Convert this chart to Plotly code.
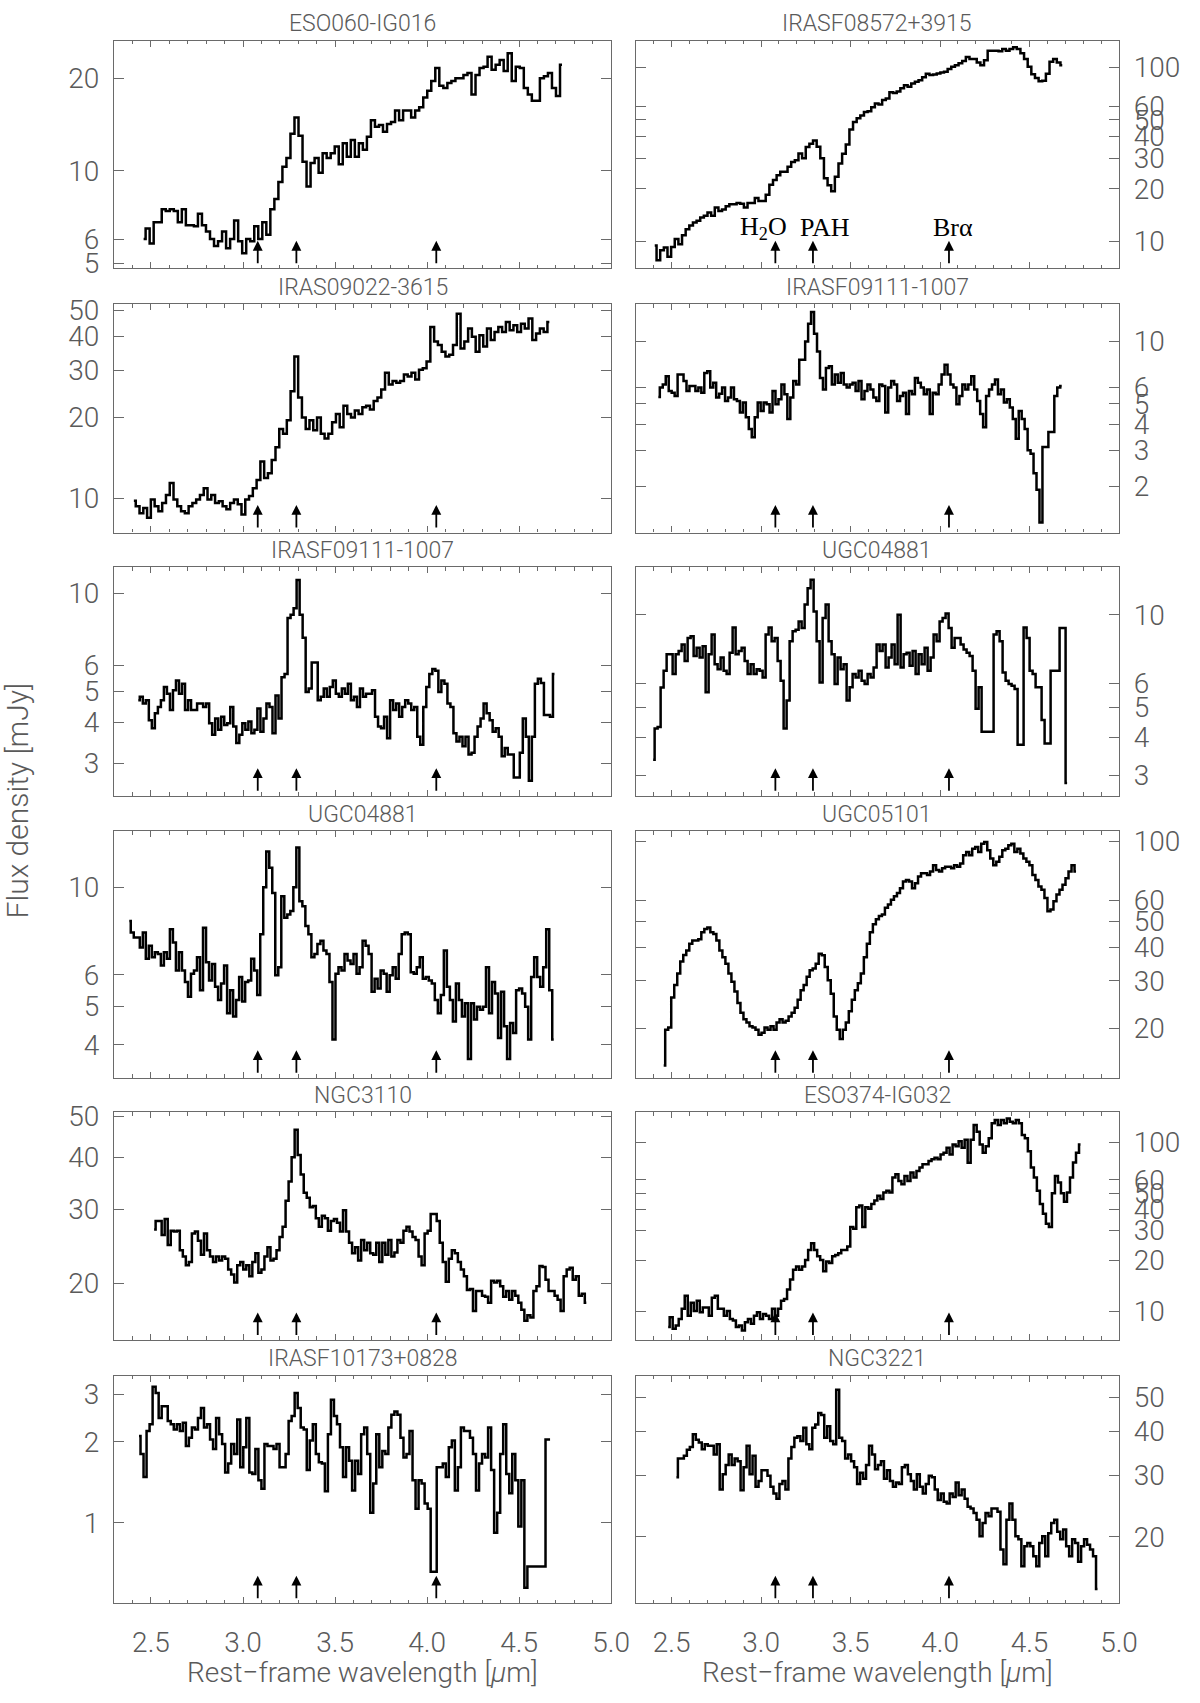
import numpy as np
import plotly.graph_objects as go

# ---------------- data ----------------
NAMES = ["ESO060-IG016", "IRASF08572+3915", "IRAS09022-3615", "IRASF09111-1007",
         "IRASF09111-1007", "UGC04881", "UGC04881", "UGC05101", "NGC3110",
         "ESO374-IG032", "IRASF10173+0828", "NGC3221"]

WL_START = [2.460, 2.406, 2.407, 2.426, 2.431, 2.397, 2.382, 2.456, 2.517, 2.481, 2.435, 2.527]
WL_END = [4.733, 4.683, 4.664, 4.680, 4.692, 4.710, 4.688, 4.760, 4.865, 4.785, 4.668, 4.880]

FLUX_ESO060 = [6.0, 6.5, 5.8, 6.8, 6.8, 7.5, 7.4, 7.5, 7.4, 6.8, 7.5, 6.65, 6.65, 6.6, 7.25, 6.65, 6.35,
               6.0, 5.7, 5.9, 6.35, 5.6, 6.0, 6.9, 5.9, 5.4, 6.0, 5.9, 6.6, 6.0, 6.8, 6.2, 7.5, 8.1, 9.2,
               10.3, 11.0, 13.2, 14.9, 13.0, 10.7, 8.9, 10.6, 11.0, 9.85, 11.4, 11.0, 11.4, 12.0, 10.5,
               12.3, 11.1, 12.6, 11.1, 12.3, 11.7, 12.9, 14.6, 13.9, 14.1, 13.4, 14.2, 14.4, 15.7, 14.6,
               15.7, 15.7, 14.9, 15.7, 16.1, 17.3, 18.2, 19.6, 21.6, 18.9, 18.6, 19.3, 19.6, 20.0, 20.0,
               20.5, 20.8, 17.7, 20.5, 21.6, 21.8, 23.5, 21.3, 22.1, 22.9, 21.1, 24.1, 19.6, 21.8, 21.6,
               18.6, 17.7, 16.9, 16.9, 20.0, 20.3, 20.8, 18.6, 17.5, 22.1]

FLUX_IRASF08572 = [9.45, 7.77, 8.85, 9.2, 8.12, 9.25, 10.3, 9.6, 10.8, 11.7, 12.3, 12.8, 13.1, 13.7, 14.0,
                   14.6, 14.0, 15.6, 14.9, 15.2, 15.9, 16.3, 16.3, 16.6, 16.4, 15.6, 16.6, 16.6, 17.7,
                   17.0, 17.0, 18.5, 21.1, 22.5, 24.0, 25.1, 25.1, 26.8, 28.6, 29.2, 32.0, 30.0, 34.8,
                   36.4, 38.0, 35.0, 30.0, 23.0, 21.0, 19.4, 23.5, 28.0, 31.9, 36.0, 44.0, 48.5, 51.0,
                   53.0, 55.5, 56.1, 59.0, 62.0, 61.2, 65.0, 66.3, 72.0, 71.3, 72.7, 75.9, 79.0, 77.5,
                   81.0, 82.8, 84.6, 88.0, 92.0, 90.5, 91.3, 92.4, 93.7, 94.6, 98.0, 101, 103, 106, 109,
                   115, 112, 112, 107, 103, 110, 125, 125, 125, 124, 128, 125, 128, 131, 128, 121, 112,
                   101, 91.5, 87.0, 83.5, 84.0, 92.0, 108, 112, 107, 103]

FLUX_IRAS09022 = [9.8, 9.35, 8.8, 9.2, 8.47, 9.9, 9.35, 8.96, 9.6, 10.3, 11.4, 9.9, 9.35, 8.96, 8.8, 9.35,
                  9.6, 9.9, 10.3, 10.9, 9.9, 10.3, 9.6, 9.75, 9.35, 9.1, 9.6, 9.9, 9.5, 8.7, 9.9, 10.2,
                  10.9, 11.7, 13.7, 11.9, 12.4, 13.9, 15.5, 18.1, 17.4, 19.5, 25.0, 33.7, 23.7, 20.0,
                  18.1, 19.5, 17.9, 20.0, 17.4, 16.7, 17.4, 19.2, 20.6, 18.4, 22.1, 20.6, 20.0, 21.2,
                  20.6, 21.8, 22.1, 21.4, 23.0, 23.7, 25.4, 29.3, 26.5, 27.3, 26.9, 27.3, 28.9, 28.4,
                  29.3, 27.7, 30.1, 30.5, 32.3, 43.4, 38.3, 37.2, 35.1, 33.7, 34.2, 37.2, 48.6, 36.1,
                  38.3, 42.8, 39.9, 35.1, 40.4, 36.7, 42.8, 38.8, 41.6, 43.4, 41.6, 45.3, 42.2, 44.0,
                  41.6, 44.6, 42.8, 46.7, 38.8, 41.0, 42.8, 41.6, 45.3]

FLUX_IRASF09111_R = [5.41, 6.0, 6.21, 6.81, 5.78, 5.67, 5.47, 6.94, 6.94, 6.45, 5.78, 6.1, 6.1, 5.78, 6.0,
                     5.67, 7.06, 7.19, 6.0, 6.33, 5.37, 5.6, 6.0, 5.17, 5.37, 6.0, 5.27, 5.17, 4.55, 5.08,
                     4.31, 3.79, 3.46, 4.31, 5.08, 4.63, 5.08, 4.99, 4.55, 5.78, 4.99, 5.27, 6.21, 5.57,
                     4.23, 5.37, 6.45, 6.21, 8.18, 8.18, 10.0, 12.2, 13.9, 10.9, 8.96, 6.68, 5.88, 7.46,
                     7.6, 6.21, 6.94, 6.33, 7.06, 6.21, 6.0, 6.21, 6.33, 5.78, 6.45, 5.27, 5.78, 6.21,
                     5.88, 5.37, 5.17, 6.21, 6.1, 4.55, 6.0, 6.45, 6.21, 5.17, 5.47, 5.67, 4.47, 5.78,
                     5.57, 6.68, 6.33, 6.0, 5.57, 5.88, 4.47, 5.67, 5.57, 6.21, 6.94, 7.74, 6.94, 6.21,
                     6.0, 4.99, 5.47, 6.21, 5.88, 6.21, 6.81, 5.88, 5.17, 4.47, 3.86, 5.47, 5.88, 6.21,
                     6.56, 5.57, 5.88, 5.08, 5.27, 4.81, 4.23, 3.4, 4.63, 4.23, 3.79, 2.99, 2.88, 2.32,
                     1.93, 1.34, 3.1, 3.1, 3.66, 3.66, 5.47, 6.0, 6.1]

FLUX_IRASF09111_L = [4.69, 4.8, 4.58, 4.69, 4.07, 3.84, 4.27, 4.47, 4.69, 5.15, 4.91, 4.37, 5.03, 5.39,
                     4.91, 5.27, 4.37, 4.69, 4.37, 4.37, 4.58, 4.58, 4.47, 4.58, 3.98, 3.67, 4.12, 3.8,
                     4.17, 3.93, 3.98, 4.47, 3.89, 3.46, 3.67, 3.98, 3.8, 4.03, 3.71, 3.8, 4.42, 3.75,
                     4.12, 4.58, 4.47, 3.71, 4.85, 4.12, 5.52, 5.65, 8.39, 8.59, 9.0, 11.0, 8.6, 7.3,
                     4.97, 5.09, 6.13, 6.13, 4.69, 4.8, 5.09, 4.8, 5.15, 5.39, 4.91, 4.8, 5.09, 4.91,
                     5.27, 4.69, 4.8, 4.47, 5.09, 4.8, 4.91, 4.91, 5.03, 4.17, 3.89, 3.84, 4.17, 3.58,
                     4.69, 4.37, 4.58, 4.17, 4.47, 4.69, 4.58, 4.37, 4.47, 3.62, 3.42, 4.47, 5.15, 5.65,
                     5.85, 5.78, 4.97, 5.39, 5.27, 4.58, 4.47, 3.71, 3.5, 3.62, 3.38, 3.62, 3.19, 3.23,
                     3.62, 3.89, 4.12, 4.58, 4.27, 4.07, 3.75, 3.84, 3.62, 3.15, 3.34, 3.19, 3.19, 2.71,
                     2.71, 3.23, 4.12, 3.62, 2.65, 3.62, 5.27, 5.46, 5.3, 4.22, 4.22, 4.17, 5.65]

FLUX_UGC04881_R = [3.38, 4.27, 4.32, 5.8, 6.58, 7.44, 7.44, 6.42, 7.44, 7.63, 8.01, 7.08, 8.41, 8.52,
                   7.35, 7.82, 7.26, 7.91, 5.6, 7.44, 8.63, 6.91, 6.66, 7.26, 6.58, 6.42, 7.53, 9.1,
                   7.44, 7.63, 7.82, 7.08, 6.42, 6.91, 6.42, 6.66, 6.58, 6.26, 8.63, 9.1, 8.21, 8.41,
                   7.08, 6.11, 4.27, 5.27, 8.21, 8.84, 8.95, 9.52, 9.06, 10.8, 12.2, 13.0, 10.25, 8.21,
                   6.03, 9.76, 10.8, 8.21, 7.44, 5.96, 7.26, 6.66, 6.91, 5.27, 5.81, 6.42, 6.26, 6.58,
                   6.11, 5.96, 6.42, 6.26, 6.74, 8.01, 7.63, 8.01, 6.74, 7.26, 8.01, 6.91, 10.0, 6.74,
                   7.44, 7.53, 6.83, 7.63, 6.42, 7.44, 6.91, 7.82, 6.58, 7.26, 8.63, 8.21, 9.52, 9.76,
                   10.1, 9.06, 7.82, 8.41, 8.41, 8.01, 7.72, 7.53, 7.35, 6.58, 4.95, 5.81, 4.17, 4.17,
                   4.17, 4.17, 8.63, 8.84, 8.21, 6.5, 6.11, 5.96, 5.88, 5.74, 3.78, 3.78, 9.1, 8.41,
                   6.58, 6.42, 5.81, 5.81, 4.55, 3.82, 3.82, 6.58, 6.58, 6.58, 9.06, 9.06, 2.84]

FLUX_UGC04881_L = [8.21, 7.68, 7.46, 7.46, 7.04, 7.68, 6.59, 7.11, 6.65, 6.85, 6.78, 6.34, 6.85, 6.59,
                   7.83, 7.25, 6.16, 6.85, 6.16, 5.76, 5.29, 6.04, 6.16, 6.65, 5.49, 7.9, 6.46, 5.81,
                   6.4, 5.6, 5.19, 5.71, 6.34, 4.8, 5.49, 4.71, 5.19, 5.93, 5.14, 5.76, 5.81, 6.59,
                   6.16, 5.34, 7.6, 10.0, 12.3, 11.2, 9.66, 5.99, 6.28, 9.48, 8.37, 8.53, 8.7, 10.0,
                   12.6, 9.21, 8.95, 7.98, 7.6, 6.65, 6.78, 7.18, 7.32, 6.92, 6.78, 5.76, 4.12, 6.04,
                   6.28, 6.16, 6.78, 6.53, 6.4, 6.78, 6.04, 6.28, 7.32, 7.11, 6.78, 5.44, 5.87, 5.55,
                   6.16, 6.04, 5.44, 5.99, 6.28, 5.87, 6.78, 7.6, 7.68, 7.6, 6.1, 6.04, 6.28, 6.65,
                   5.87, 5.93, 5.81, 5.71, 5.19, 4.8, 5.34, 6.92, 5.6, 5.19, 4.58, 5.71, 5.19, 4.71,
                   5.09, 3.68, 5.09, 4.63, 4.99, 4.9, 4.99, 6.28, 4.8, 5.76, 5.39, 4.16, 5.44, 4.45,
                   3.68, 4.54, 4.28, 5.49, 5.55, 5.39, 4.99, 4.12, 5.93, 6.65, 5.93, 5.6, 6.28, 7.83,
                   5.49, 4.12]

FLUX_UGC05101 = [14.5, 19.7, 20.1, 26.0, 29.0, 32.0, 35.5, 37.5, 39.0, 41.3, 42.5, 42.5, 43.0, 45.6,
                 46.9, 47.5, 45.6, 44.9, 42.5, 39.0, 36.8, 34.8, 32.0, 29.8, 27.4, 24.8, 22.8, 21.6,
                 21.0, 20.3, 20.1, 19.7, 18.9, 19.2, 20.1, 19.7, 20.3, 19.7, 21.0, 21.6, 21.0, 21.3,
                 22.1, 22.8, 23.8, 25.5, 27.7, 29.0, 31.1, 32.9, 33.4, 34.8, 37.9, 37.4, 33.8, 30.2,
                 26.9, 22.1, 19.7, 18.2, 19.7, 21.0, 23.1, 25.5, 27.7, 29.4, 32.0, 36.8, 41.3, 45.6,
                 48.9, 51.0, 52.5, 53.2, 56.3, 58.0, 60.4, 62.2, 64.0, 66.7, 70.6, 71.6, 70.6, 66.7,
                 69.6, 73.7, 75.8, 75.8, 74.7, 76.9, 81.3, 78.0, 76.9, 79.1, 80.2, 80.2, 79.1, 81.3,
                 80.2, 82.5, 88.5, 91.1, 88.5, 93.7, 95.0, 91.1, 97.8, 99.2, 92.4, 86.1, 81.3, 83.7,
                 87.3, 92.4, 93.7, 96.4, 97.8, 91.1, 93.7, 89.8, 86.1, 83.7, 81.3, 74.7, 71.6, 67.7,
                 65.8, 61.3, 54.7, 55.5, 59.6, 63.1, 65.8, 68.7, 72.6, 76.9, 81.3, 76.9]

FLUX_NGC3110 = [26.9, 28.2, 28.2, 26.1, 28.5, 24.7, 26.7, 26.6, 26.7, 24.0, 23.2, 22.1, 22.5, 26.3, 26.6,
                25.3, 23.4, 26.3, 24.0, 23.2, 22.5, 23.2, 22.7, 23.2, 22.9, 21.6, 21.0, 20.1, 22.1,
                22.5, 21.6, 22.1, 20.8, 22.5, 23.6, 21.2, 21.6, 23.2, 24.4, 22.7, 22.9, 24.0, 25.8,
                27.3, 31.5, 35.0, 40.0, 46.5, 40.5, 36.4, 32.9, 32.0, 30.4, 30.6, 28.6, 27.3, 29.0,
                28.6, 26.7, 28.2, 28.5, 27.9, 26.6, 29.9, 26.6, 25.0, 23.6, 24.4, 22.7, 25.4, 24.0,
                25.0, 23.6, 23.4, 25.0, 22.5, 25.0, 23.4, 25.4, 23.2, 23.7, 25.4, 25.0, 26.7, 27.3,
                26.6, 25.8, 25.4, 23.2, 22.1, 26.3, 26.7, 29.3, 29.3, 28.2, 25.0, 22.5, 20.2, 22.9,
                24.0, 23.6, 22.5, 21.6, 20.8, 19.3, 19.4, 17.2, 19.2, 19.2, 18.7, 18.6, 18.0, 20.3,
                20.1, 20.3, 19.7, 18.6, 19.2, 18.3, 19.2, 18.7, 18.0, 17.3, 16.3, 16.8, 16.6, 19.2,
                19.7, 22.0, 21.9, 20.4, 19.2, 19.2, 18.7, 18.3, 17.2, 20.8, 21.6, 21.8, 20.4, 20.8,
                18.7, 18.9, 18.0]

FLUX_ESO374 = [8.03, 9.18, 7.85, 8.21, 8.98, 10.3, 12.3, 9.39, 11.2, 10.0, 11.5, 9.82, 10.5, 10.5, 9.39,
               12.0, 12.3, 10.3, 10.3, 9.39, 10.0, 8.98, 8.78, 8.03, 8.21, 7.67, 8.58, 8.98, 8.39, 9.39,
               9.82, 8.98, 9.6, 9.39, 8.98, 10.3, 9.39, 10.3, 11.5, 11.8, 13.4, 15.4, 17.6, 18.4, 17.6,
               18.4, 20.1, 23.0, 25.2, 23.0, 21.1, 20.1, 17.2, 19.7, 19.3, 21.1, 21.5, 22.0, 23.0,
               23.0, 24.1, 31.5, 30.8, 41.3, 42.2, 31.5, 41.3, 40.4, 43.2, 45.3, 48.3, 46.2, 50.5,
               51.7, 50.5, 61.9, 64.8, 59.1, 56.5, 63.3, 59.1, 66.3, 61.9, 67.8, 70.9, 74.2, 74.2,
               77.6, 79.4, 81.2, 79.4, 84.9, 86.8, 92.9, 84.9, 97.2, 95.0, 101.7, 92.9, 103.9, 75.9,
               103.9, 126.9, 115.8, 97.2, 86.8, 95.0, 106.0, 129.8, 135.8, 126.9, 135.8, 129.8, 138.9,
               132.8, 129.8, 135.8, 129.8, 110.7, 106.0, 88.8, 70.9, 61.9, 51.7, 43.2, 37.7, 32.9,
               31.5, 50.0, 63.3, 57.8, 50.0, 44.5, 50.5, 62.0, 76.0, 86.8, 97.2]

FLUX_IRASF10173 = [2.10, 1.80, 1.48, 2.19, 2.32, 3.20, 3.03, 2.45, 2.71, 2.71, 2.39, 2.32, 2.22, 2.32,
                   2.19, 2.35, 1.93, 2.07, 2.26, 2.22, 2.45, 2.67, 2.26, 2.32, 2.04, 1.88, 2.45, 2.13,
                   1.96, 1.54, 1.66, 1.96, 1.80, 2.42, 1.61, 1.91, 2.45, 1.54, 1.52, 1.88, 1.44, 1.34,
                   1.96, 1.93, 1.93, 1.88, 1.96, 1.61, 1.61, 1.80, 2.39, 2.49, 3.03, 2.67, 2.26, 2.22,
                   1.57, 2.02, 2.32, 1.80, 1.68, 1.66, 1.31, 2.13, 2.86, 2.49, 2.32, 1.91, 1.48, 1.91,
                   1.70, 1.32, 1.70, 1.52, 2.13, 2.26, 1.80, 1.09, 1.40, 2.13, 1.61, 1.85, 1.80, 2.26,
                   2.52, 2.59, 2.52, 2.07, 1.75, 1.80, 2.19, 1.44, 1.13, 1.44, 1.40, 1.18, 1.13, 0.66,
                   0.66, 1.61, 1.61, 1.66, 1.48, 1.91, 2.02, 1.32, 1.61, 2.26, 2.19, 2.19, 2.07, 1.80,
                   1.32, 1.66, 1.80, 1.75, 2.26, 1.57, 0.92, 1.09, 1.80, 2.32, 1.52, 1.29, 1.80, 1.44,
                   0.97, 1.44, 0.575, 0.69, 0.69, 0.69, 0.69, 0.69, 0.69, 2.04, 2.04]

FLUX_NGC3221 = [29.6, 33.5, 33.5, 34.1, 35.5, 36.1, 39.3, 37.9, 37.2, 35.6, 36.8, 36.4, 36.4, 34.4, 36.8,
                27.3, 30.2, 32.1, 34.4, 32.1, 33.5, 32.9, 27.2, 31.6, 36.4, 30.2, 34.1, 27.8, 28.9,
                31.0, 31.0, 29.9, 27.8, 26.6, 25.7, 28.3, 28.9, 27.3, 33.5, 36.1, 38.4, 38.8, 37.6,
                41.0, 36.8, 35.6, 41.0, 41.9, 45.2, 44.6, 38.4, 41.4, 37.6, 36.8, 52.6, 38.4, 37.6,
                33.5, 34.4, 32.9, 31.6, 28.3, 30.5, 29.3, 32.1, 36.4, 34.4, 31.2, 32.1, 32.9, 29.3,
                31.0, 28.9, 27.8, 28.6, 28.3, 31.6, 32.1, 30.2, 28.9, 27.3, 30.2, 27.8, 26.6, 28.3,
                29.9, 29.6, 27.3, 25.5, 26.6, 25.2, 24.9, 26.6, 26.0, 28.6, 26.3, 27.3, 25.7, 24.4,
                24.1, 23.4, 22.4, 20.1, 21.9, 23.4, 22.9, 24.1, 24.1, 23.6, 18.4, 16.7, 22.4, 24.9,
                22.4, 20.1, 19.7, 16.5, 18.8, 19.2, 18.8, 17.6, 16.5, 19.2, 20.1, 17.6, 20.5, 21.9,
                22.4, 20.7, 19.7, 21.0, 18.8, 17.6, 19.7, 19.2, 17.0, 18.8, 19.7, 19.0, 18.4, 17.6,
                14.2]

FLUXES = [FLUX_ESO060, FLUX_IRASF08572, FLUX_IRAS09022, FLUX_IRASF09111_R, FLUX_IRASF09111_L,
          FLUX_UGC04881_R, FLUX_UGC04881_L, FLUX_UGC05101, FLUX_NGC3110, FLUX_ESO374,
          FLUX_IRASF10173, FLUX_NGC3221]

Y_MIN = [4.82, 6.97, 7.46, 1.20, 2.38, 2.58, 3.30, 13.04, 14.66, 6.73, 0.504, 12.93]
Y_MAX = [26.5, 143.0, 52.9, 15.2, 12.05, 14.3, 13.84, 108.8, 51.2, 151.0, 3.52, 57.8]
Y_TICKS = [[5, 6, 10, 20], [10, 20, 30, 40, 50, 60, 100], [10, 20, 30, 40, 50], [2, 3, 4, 5, 6, 10],
           [3, 4, 5, 6, 10], [3, 4, 5, 6, 10], [4, 5, 6, 10], [20, 30, 40, 50, 60, 100],
           [20, 30, 40, 50], [10, 20, 30, 40, 50, 60, 100], [1, 2, 3], [20, 30, 40, 50]]

X_RANGE = [2.3, 5.0]
FEATURE_WL = [3.08, 3.29, 4.05]
FEATURE_LABELS = ["H<sub>2</sub>O", "PAH", "Br\u03b1"]
FEATURE_LABEL_WL = [3.014, 3.355, 4.07]

# ---------------- layout constants (pixels) ----------------
W, H = 1200, 1703
COL_X = [(116, 621), (646, 1137)]
ROW_Y = [(29, 260), (296, 528), (563, 795), (831, 1081), (1116, 1347), (1383, 1614)]

TEXT = "#5a5a5a"
FRAME = "#6a6a6a"
FONT = "DejaVu Sans ExtraLight, Roboto, Liberation Sans, sans-serif"
SERIF = "Liberation Serif, Times New Roman, serif"


def px(x):
    return x / W


def py(y):
    return 1 - y / H


fig = go.Figure()
layout = {}
annotations = []

for i in range(12):
    col, row = i % 2, i // 2
    sx = "" if i == 0 else str(i + 1)
    x0, x1 = COL_X[col]
    top, bot = ROW_Y[row]
    wl = np.linspace(WL_START[i], WL_END[i], len(FLUXES[i]))
    fig.add_trace(go.Scatter(x=wl, y=FLUXES[i], mode="lines",
                             line=dict(color="black", width=2.5, shape="hvh"),
                             xaxis="x" + sx, yaxis="y" + sx, showlegend=False,
                             hoverinfo="skip"))
    layout["xaxis" + sx] = dict(
        domain=[px(x0), px(x1)], range=X_RANGE, anchor="y" + sx,
        showline=True, linecolor=FRAME, linewidth=1.4, mirror="ticks",
        ticks="inside", ticklen=6, tickwidth=1.2, tickcolor=FRAME,
        tickmode="linear", tick0=2.5, dtick=0.5, tickformat=".1f",
        showticklabels=(row == 5), ticklabelstandoff=14,
        tickfont=dict(size=28, color=TEXT, family=FONT, weight=300),
        minor=dict(dtick=0.1, tick0=2.3, ticks="inside", ticklen=3.5,
                   tickcolor=FRAME, tickwidth=1.1),
        showgrid=False, zeroline=False, fixedrange=True)
    layout["yaxis" + sx] = dict(
        domain=[py(bot), py(top)], type="log",
        range=[np.log10(Y_MIN[i]), np.log10(Y_MAX[i])], anchor="x" + sx,
        side="left" if col == 0 else "right",
        showline=True, linecolor=FRAME, linewidth=1.4, mirror="ticks",
        ticks="inside", ticklen=10, tickwidth=1.2, tickcolor=FRAME,
        tickmode="array", tickvals=Y_TICKS[i], ticktext=[str(v) for v in Y_TICKS[i]],
        ticklabelstandoff=8,
        tickfont=dict(size=28, color=TEXT, family=FONT, weight=300),
        showgrid=False, zeroline=False, fixedrange=True)
    # panel title
    annotations.append(dict(text=NAMES[i], x=px((x0 + x1) / 2), y=py(top - 17),
                            xref="paper", yref="paper", showarrow=False,
                            xanchor="center", yanchor="middle",
                            font=dict(size=23, color=TEXT, family=FONT, weight=300)))
    # feature arrows
    for w in FEATURE_WL:
        annotations.append(dict(text="", x=w, y=py(bot - 28), xref="x" + sx, yref="paper",
                                showarrow=True, ax=0, ay=24, arrowhead=2, arrowsize=1.1,
                                arrowwidth=1.8, arrowcolor="black"))
    if i == 1:
        for w, lab in zip(FEATURE_LABEL_WL, FEATURE_LABELS):
            annotations.append(dict(text=lab, x=w, y=py(bot - 41), xref="x" + sx, yref="paper",
                                    showarrow=False, xanchor="center", yanchor="middle",
                                    font=dict(size=26, color="black", family=SERIF)))

# axis titles
for c in range(2):
    x0, x1 = COL_X[c]
    annotations.append(dict(text="Rest\u2212frame wavelength [<i>\u03bc</i>m]",
                            x=px((x0 + x1) / 2), y=py(1684), xref="paper", yref="paper",
                            showarrow=False, xanchor="center", yanchor="middle",
                            font=dict(size=28, color=TEXT, family=FONT, weight=300)))
annotations.append(dict(text="Flux density [mJy]", x=px(18), y=py(800), xref="paper", yref="paper",
                        showarrow=False, textangle=-90, xanchor="center", yanchor="middle",
                        font=dict(size=30, color=TEXT, family=FONT, weight=300)))

fig.update_layout(**layout)
fig.update_layout(width=W, height=H, autosize=False, margin=dict(l=0, r=0, t=0, b=0),
                  paper_bgcolor="white", plot_bgcolor="white", annotations=annotations)

fig.write_html("out.html", config={"displayModeBar": False},
               post_script="document.body.style.margin='0';document.body.style.overflow='hidden';")
